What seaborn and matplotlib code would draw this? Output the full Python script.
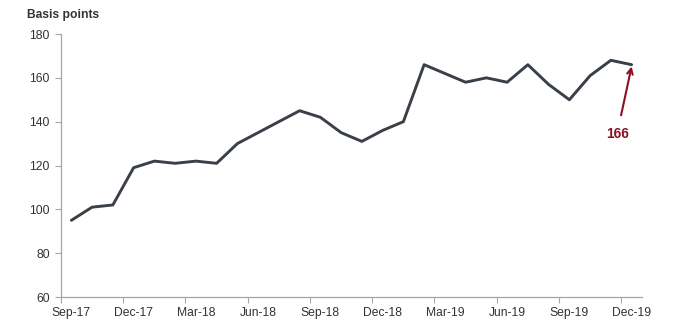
import matplotlib
matplotlib.use("Agg")
import matplotlib.pyplot as plt
import seaborn as sns
import pandas as pd
import numpy as np

months = ["Sep-17", "Oct-17", "Nov-17", "Dec-17", "Jan-18", "Feb-18", "Mar-18",
          "Apr-18", "May-18", "Jun-18", "Jul-18", "Aug-18", "Sep-18", "Oct-18",
          "Nov-18", "Dec-18", "Jan-19", "Feb-19", "Mar-19", "Apr-19", "May-19",
          "Jun-19", "Jul-19", "Aug-19", "Sep-19", "Oct-19", "Nov-19", "Dec-19"]
spread_bp = [95, 101, 102, 119, 122, 121, 122, 121, 130, 135, 140, 145, 142, 135,
             131, 136, 140, 166, 162, 158, 160, 158, 166, 157, 150, 161, 168, 166]
y_ticks = [60, 80, 100, 120, 140, 160, 180]
annot_value = 166

sns.set_theme(style="white")
plt.rcParams["font.family"] = ["Liberation Sans", "DejaVu Sans"]

df = pd.DataFrame({"month": months, "pos": np.arange(len(months)), "bp": spread_bp})

fig = plt.figure(figsize=(6.8, 3.35), dpi=100)
ax = fig.add_axes([0.0897, 0.1134, 0.8544, 0.7851])

sns.lineplot(data=df, x="pos", y="bp", ax=ax, color="#3a4047", linewidth=2.1)

ax.set_xlim(-0.5, len(months) - 0.5)
ax.set_ylim(60, 180)
ax.set_yticks(y_ticks)
ax.set_yticklabels([str(v) for v in y_ticks])

label_pos = df["pos"].values[::3]
ax.set_xticks(label_pos)
ax.set_xticklabels(df["month"].values[::3])
ax.set_xticks(label_pos - 0.5, minor=True)
ax.tick_params(axis="x", which="major", length=0, pad=7, labelsize=8.7, labelcolor="#333333")
ax.tick_params(axis="x", which="minor", length=4, width=0.8, color="#a6a6a6", direction="out", bottom=True)
ax.tick_params(axis="y", length=4, width=0.8, color="#a6a6a6", direction="out", left=True,
               labelsize=8.7, labelcolor="#333333", pad=4)

ax.set_xlabel("")
ax.set_ylabel("")
for s in ["top", "right"]:
    ax.spines[s].set_visible(False)
for s in ["left", "bottom"]:
    ax.spines[s].set_color("#a6a6a6")
    ax.spines[s].set_linewidth(0.9)

fig.text(27 / 680, 1 - 15 / 335, "Basis points", fontsize=8.7, fontweight="bold",
         color="#333333", ha="left", va="center")

last = df.iloc[-1]
ax.annotate(str(annot_value), xy=(last["pos"], last["bp"] - 0.8),
            xytext=(last["pos"] - 0.7, 134.5), textcoords="data",
            ha="center", va="center", fontsize=9.8, fontweight="bold", color="#8b1020",
            arrowprops=dict(arrowstyle="->", color="#8b1020", lw=1.5,
                            shrinkA=6, shrinkB=0, mutation_scale=10))

fig.savefig("out.png", dpi=100)
